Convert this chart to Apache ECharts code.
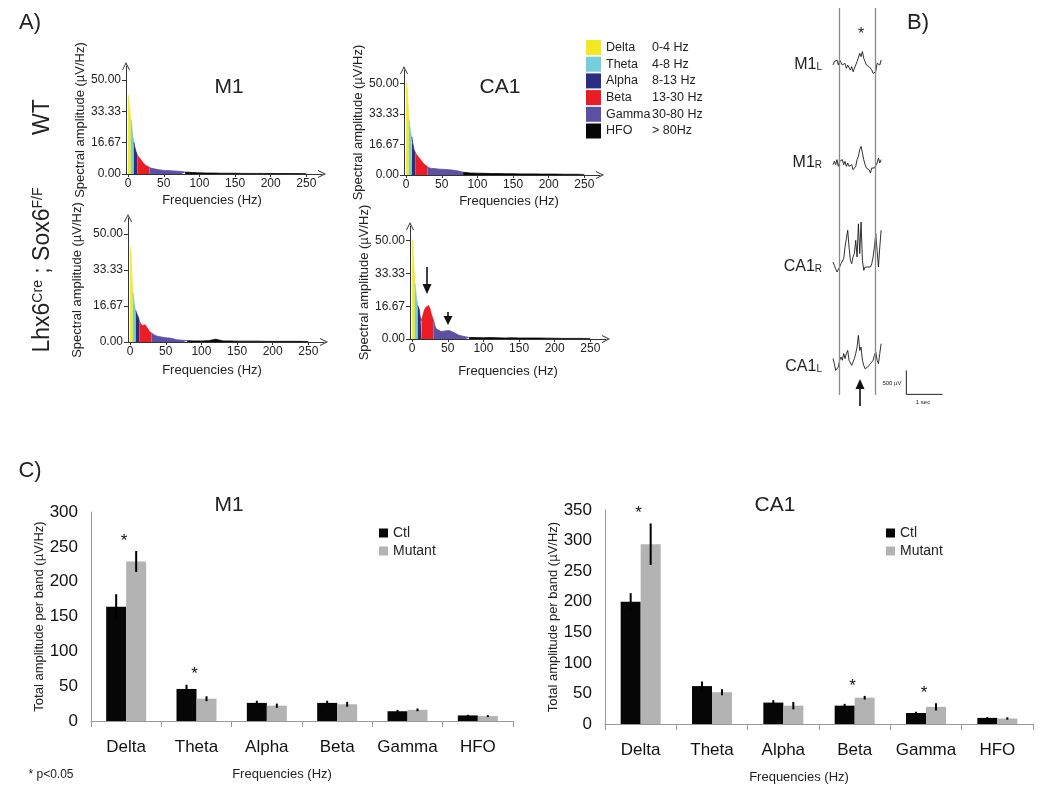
<!DOCTYPE html>
<html>
<head>
<meta charset="utf-8">
<script src="https://cdn.jsdelivr.net/npm/echarts@6/dist/echarts.min.js"></script>
<style>
  html, body { margin: 0; background: #fff; }
  #chart { width: 1050px; height: 787px; }
</style>
</head>
<body>
<div id="chart"></div>
<script>
const FONT = '"Liberation Sans", Arial, Helvetica, sans-serif';

// ---- A) spectra ----
const freqs = [0, 0.5, 1, 1.5, 2, 2.5, 3, 3.5, 4, 5, 6, 7, 8, 9, 10, 11, 12, 13,
  15, 17, 19, 21, 23, 25, 27, 30, 33, 36, 40, 44, 48, 52, 56, 60, 65, 70, 75, 80,
  90, 100, 110, 120, 130, 140, 150, 160, 170, 180, 190, 200, 210, 220, 230, 240, 250];
const wtM1 = [38, 42, 41, 38, 37, 34, 31, 30, 29, 26, 22, 19, 17, 15, 13.5, 12, 11, 10,
  9, 8, 7, 6, 5, 4.5, 4, 3.5, 3, 2.8, 2.5, 2.2, 2, 1.9, 1.8, 1.7, 1.6, 1.5, 1.3, 1,
  0.8, 0.6, 0.5, 0.5, 0.4, 0.4, 0.4, 0.3, 0.3, 0.3, 0.3, 0.3, 0.2, 0.3, 0.2, 0.2, 0.2];
const wtCA1 = [45, 51, 50, 47, 44, 40, 36, 33, 30, 27, 24, 22, 21, 18, 16, 14, 13, 12,
  11, 10, 9, 8, 7, 6, 5, 4.5, 3.8, 3.6, 3.5, 3.3, 3.2, 3.1, 3, 2.9, 2.7, 2.4, 2, 1.5,
  1.1, 1, 0.9, 0.8, 0.8, 0.7, 0.7, 0.6, 0.6, 0.6, 0.5, 0.5, 0.5, 0.4, 0.4, 0.4, 0.3];
const mutM1 = [40, 44, 42, 38, 35, 30, 26, 24, 23, 20, 17, 15.5, 14.5, 13.5, 13.4, 13, 11, 9.5,
  8.5, 7.5, 7.5, 8, 7.5, 6, 5, 4.2, 3.5, 2.9, 2.6, 2.3, 2.1, 1.9, 1.8, 1.5, 1.1, 0.9, 0.8, 0.6,
  0.5, 0.5, 0.6, 1.3, 0.5, 0.5, 0.4, 0.4, 0.4, 0.4, 0.3, 0.3, 0.3, 0.3, 0.3, 0.3, 0.2];
const mutCA1 = [45, 50.5, 48, 44, 40, 36, 33, 30, 28, 25, 21, 19, 17, 16, 15, 12, 9.5, 9.5,
  12, 14.5, 16, 17, 17, 15.5, 12.5, 9.5, 5.5, 4.7, 3.9, 4, 4.2, 4.3, 3.7, 3, 2, 1.5, 1.1, 0.8,
  0.7, 0.6, 0.7, 0.6, 0.5, 0.6, 0.5, 0.5, 0.5, 0.5, 0.4, 0.4, 0.3, 0.3, 0.3, 0.3, 0.3];
const bandNames = ['Delta', 'Theta', 'Alpha', 'Beta', 'Gamma', 'HFO'];
const bandRanges = ['0-4 Hz', '4-8 Hz', '8-13 Hz', '13-30 Hz', '30-80 Hz', '> 80Hz'];
const bandEdges = [0, 4, 8, 13, 30, 80, 250];
const bandColors = ['#f2e923', '#75cedb', '#2a2d82', '#ec1c24', '#5c50a4', '#060606'];
const specXTicks = [0, 50, 100, 150, 200, 250];
const specYTicks = [0, 16.67, 33.33, 50];

// ---- B) traces (µV) ----
const traceNames = [['M1', 'L'], ['M1', 'R'], ['CA1', 'R'], ['CA1', 'L']];
const m1L = [0, 70, 35, 105, 0, 105, 70, 0, -35, 35, -70, 0, -35, -105, -35, -140, -70, 0, 70, 105,
  245, 175, 280, 140, 70, 0, -35, -35, -70, -105, -175, -175, -140, 35, 70, 0, 105];
const m1R = [-35, 35, -35, 70, -70, 35, 0, 70, -35, 35, -70, 0, -70, -105, -35, -140, -175, -70, 70, 140,
  280, 345, 210, 70, -35, -105, -70, -140, -210, -105, -70, -105, -140, 0, 105, 0, 70];
const ca1R = [105, 35, -35, -105, -70, 0, 70, 70, 175, 415, 590, 765, 415, 140, 70, 210, 280, 555, 210, 900,
  280, 935, 140, -70, 0, -35, 0, 35, 0, 70, 210, 415, 695, 345, 0, 415, 765];
const ca1L = [175, 70, -70, -105, 0, 140, 210, 140, 280, 175, 280, 345, 140, 105, 35, 70, 175, 280, 415, 660,
  345, 415, 140, 35, -35, 0, 0, 35, 70, 105, 140, 245, 310, 140, 70, 280, 485];
const sampleStep = 0.037; // s
const windowMarks = [0.167, 1.167]; // s
const scaleSec = 1, scaleUv = 500;

// ---- C) band totals ----
const bandCats = ['Delta', 'Theta', 'Alpha', 'Beta', 'Gamma', 'HFO'];
const m1Ctl = [164, 46, 26, 26, 14, 8];
const m1CtlErr = [18, 6, 3, 3, 2, 1];
const m1Mut = [229, 32, 22, 24, 16, 7];
const m1MutErr = [15, 3.5, 3, 3.5, 2, 1.5];
const m1Sig = [1, 1, 0, 0, 0, 0];
const ca1Ctl = [200, 62, 35, 30, 18, 10];
const ca1CtlErr = [14, 7.5, 4, 3, 2, 1.2];
const ca1Mut = [294, 52, 30, 43, 28, 9];
const ca1MutErr = [34, 5, 6, 3, 6, 2];
const ca1Sig = [1, 0, 0, 1, 1, 0];

const chart = echarts.init(document.getElementById('chart'), null, { renderer: 'canvas' });

const axisCol = '#333';
const chevron = 'path://M0,10 L5,0 L10,10 L8.8,10 L5,2.6 L1.2,10 Z';
const grids = [], xAxes = [], yAxes = [], series = [], graphics = [];

// spectra layout
const specPanels = [
  { vals: wtM1, left: 126, top: 66, height: 108, xNameGap: 20, xPad: [0, 24, 0, 0], yNameGap: 39 },
  { vals: wtCA1, left: 404, top: 70, height: 105, xNameGap: 20, xPad: [0, 0, 0, 14], yNameGap: 37 },
  { vals: mutM1, left: 128, top: 218, height: 124, xNameGap: 22, xPad: [0, 28, 0, 0], yNameGap: 44 },
  { vals: mutCA1, left: 410, top: 226, height: 113, xNameGap: 26, xPad: [0, 0, 0, 0], yNameGap: 37 }
];
specPanels.forEach((p, gi) => {
  grids.push({ left: p.left, top: p.top, width: 196, height: p.height });
  xAxes.push({
    type: 'value', gridIndex: gi, min: -3, max: 272,
    axisLine: { show: true, onZero: false, lineStyle: { color: axisCol, width: 1 }, symbol: ['none', chevron], symbolSize: [8, 8] },
    axisTick: { show: true, customValues: specXTicks, length: 3, lineStyle: { color: axisCol } },
    axisLabel: { customValues: specXTicks, fontSize: 12, color: '#222', margin: 4, fontFamily: FONT },
    splitLine: { show: false },
    name: 'Frequencies (Hz)', nameLocation: 'middle', nameGap: p.xNameGap,
    nameTextStyle: { fontSize: 13, color: '#222', fontFamily: FONT, padding: p.xPad }
  });
  yAxes.push({
    type: 'value', gridIndex: gi, min: 0, max: 57.5,
    axisLine: { show: true, onZero: false, lineStyle: { color: axisCol, width: 1 }, symbol: ['none', chevron], symbolSize: [8, 8] },
    axisTick: { show: true, customValues: specYTicks, length: 4, lineStyle: { color: axisCol } },
    axisLabel: { customValues: specYTicks, fontSize: 12, color: '#222', margin: 5, fontFamily: FONT, formatter: v => v.toFixed(2) },
    splitLine: { show: false },
    name: 'Spectral amplitude (µV/Hz)', nameLocation: 'middle', nameGap: p.yNameGap, nameRotate: 90,
    nameTextStyle: { fontSize: 13, color: '#222', fontFamily: FONT }
  });
  bandNames.forEach((b, k) => {
    const pts = [];
    freqs.forEach((f, i) => {
      if (f >= bandEdges[k] && f <= bandEdges[k + 1]) pts.push([f, p.vals[i]]);
    });
    series.push({
      type: 'line', name: b, xAxisIndex: gi, yAxisIndex: gi, data: pts,
      symbol: 'none', silent: true, animation: false,
      lineStyle: { color: bandColors[k], width: 0.8 },
      areaStyle: { color: bandColors[k], opacity: 1 }
    });
  });
});

// traces layout
const traceTops = [17, 115, 219, 319];
const traces = [m1L, m1R, ca1R, ca1L];
const traceLeft = 833, traceWidth = 112, traceTMax = 3.1;
traces.forEach((tr, k) => {
  const gi = grids.length;
  const last = k === traces.length - 1;
  const yMin = last ? -700 : -500;
  grids.push({ left: traceLeft, top: traceTops[k], width: traceWidth, height: (1000 - yMin) * 0.048 });
  xAxes.push({ type: 'value', gridIndex: gi, min: 0, max: traceTMax, show: false });
  yAxes.push({ type: 'value', gridIndex: gi, min: yMin, max: 1000, show: false });
  series.push({
    type: 'line', xAxisIndex: gi, yAxisIndex: gi, silent: true, animation: false,
    data: tr.map((v, i) => [i * sampleStep, v]),
    symbol: 'none', lineStyle: { color: '#1a1a1a', width: 0.9 }
  });
  if (last) {
    const t0 = 2.03, y0 = -570;
    series.push({
      type: 'line', xAxisIndex: gi, yAxisIndex: gi, silent: true, animation: false,
      data: [[t0, y0 + scaleUv], [t0, y0], [t0 + scaleSec, y0]],
      symbol: 'none', lineStyle: { color: '#222', width: 1 }
    });
  }
  graphics.push({
    type: 'text', x: 822, y: traceTops[k] + 48, silent: true,
    style: {
      text: `{a|${traceNames[k][0]}}{s|${traceNames[k][1]}}`, align: 'right', verticalAlign: 'middle',
      rich: {
        a: { fontSize: 16, fontFamily: FONT, fill: '#222', verticalAlign: 'bottom' },
        s: { fontSize: 10, fontFamily: FONT, fill: '#222', verticalAlign: 'bottom', padding: [0, 0, 1, 0] }
      }
    }
  });
});
// overlay for the window lines
{
  const gi = grids.length;
  grids.push({ left: traceLeft, top: 8, width: traceWidth, height: 387 });
  xAxes.push({ type: 'value', gridIndex: gi, min: 0, max: traceTMax, show: false });
  yAxes.push({ type: 'value', gridIndex: gi, min: 0, max: 1, show: false });
  series.push({
    type: 'line', xAxisIndex: gi, yAxisIndex: gi, data: [], silent: true, animation: false,
    markLine: {
      silent: true, symbol: ['none', 'none'], label: { show: false }, animation: false,
      lineStyle: { color: '#8c8c8c', width: 1.3, type: 'solid' },
      data: windowMarks.map(t => ({ xAxis: t }))
    }
  });
}

// bar charts layout
const barPanels = [
  { ctl: m1Ctl, ctlErr: m1CtlErr, mut: m1Mut, mutErr: m1MutErr, sig: m1Sig, max: 300,
    left: 91, top: 512, width: 422, height: 209, yNameGap: 39 },
  { ctl: ca1Ctl, ctlErr: ca1CtlErr, mut: ca1Mut, mutErr: ca1MutErr, sig: ca1Sig, max: 350,
    left: 605, top: 510, width: 428, height: 214, yNameGap: 44 }
];
const errRender = (offset) => (params, api) => {
  const lo = api.coord([api.value(0), api.value(1)]);
  const hi = api.coord([api.value(0), api.value(2)]);
  return {
    type: 'line', silent: true,
    shape: { x1: lo[0] + offset, y1: lo[1], x2: hi[0] + offset, y2: hi[1] },
    style: { stroke: '#000', lineWidth: 2 }
  };
};
barPanels.forEach((p) => {
  const gi = grids.length;
  grids.push({ left: p.left, top: p.top, width: p.width, height: p.height });
  xAxes.push({
    type: 'category', gridIndex: gi, data: bandCats,
    axisLine: { show: true, lineStyle: { color: '#999', width: 1 } },
    axisTick: { show: true, length: 6, lineStyle: { color: '#999' } },
    axisLabel: { interval: 0, fontSize: 17, color: '#111', margin: 18, fontFamily: FONT },
    name: 'Frequencies (Hz)', nameLocation: 'middle', nameGap: 47,
    nameTextStyle: { fontSize: 13, color: '#222', fontFamily: FONT, padding: [0, 40, 0, 0] }
  });
  yAxes.push({
    type: 'value', gridIndex: gi, min: 0, max: p.max, interval: 50,
    axisLine: { show: true, lineStyle: { color: '#999', width: 1 } },
    axisTick: { show: false },
    axisLabel: { fontSize: 17, color: '#111', margin: 13, fontFamily: FONT },
    splitLine: { show: false },
    name: 'Total amplitude per band (µV/Hz)', nameLocation: 'middle', nameGap: p.yNameGap, nameRotate: 90,
    nameTextStyle: { fontSize: 13, color: '#222', fontFamily: FONT }
  });
  series.push(
    { type: 'bar', name: 'Ctl', xAxisIndex: gi, yAxisIndex: gi, data: p.ctl, barWidth: 20, barGap: '0%',
      itemStyle: { color: '#060606' }, silent: true, animation: false },
    { type: 'bar', name: 'Mutant', xAxisIndex: gi, yAxisIndex: gi, data: p.mut, barWidth: 20, barGap: '0%',
      itemStyle: { color: '#b3b3b3' }, silent: true, animation: false },
    { type: 'custom', xAxisIndex: gi, yAxisIndex: gi, z: 5, animation: false,
      data: p.ctl.map((v, i) => [i, v - p.ctlErr[i], v + p.ctlErr[i]]), renderItem: errRender(-10) },
    { type: 'custom', xAxisIndex: gi, yAxisIndex: gi, z: 5, animation: false,
      data: p.mut.map((v, i) => [i, v - p.mutErr[i], v + p.mutErr[i]]), renderItem: errRender(10) },
    { type: 'custom', xAxisIndex: gi, yAxisIndex: gi, z: 6, animation: false,
      data: p.sig.map((s, i) => [i, Math.max(p.ctl[i] + p.ctlErr[i], p.mut[i] + p.mutErr[i]), s]).filter(d => d[2]),
      renderItem: (params, api) => {
        const pt = api.coord([api.value(0), api.value(1)]);
        return { type: 'text', silent: true,
          style: { text: '*', x: pt[0] - 2, y: pt[1] - 10, align: 'center', verticalAlign: 'middle',
            fontSize: 17, fontFamily: FONT, fill: '#111' } };
      } }
  );
});

// band colour key
bandNames.forEach((b, k) => {
  const y = 40 + k * 16.7;
  graphics.push(
    { type: 'rect', silent: true, shape: { x: 586, y: y, width: 15, height: 15 }, style: { fill: bandColors[k] } },
    { type: 'text', silent: true, x: 606, y: y + 7.5, style: { text: b, fontSize: 12.5, fontFamily: FONT, fill: '#222', verticalAlign: 'middle' } },
    { type: 'text', silent: true, x: 652, y: y + 7.5, style: { text: bandRanges[k], fontSize: 12.5, fontFamily: FONT, fill: '#222', verticalAlign: 'middle' } }
  );
});

const txt = (text, x, y, size, extra) => ({
  type: 'text', silent: true, x: x, y: y,
  style: Object.assign({ text: text, fontSize: size, fontFamily: FONT, fill: '#222', align: 'center', verticalAlign: 'middle' }, extra || {})
});
graphics.push(
  txt('A)', 30, 23, 22),
  txt('B)', 918, 23, 22),
  txt('C)', 30, 471, 22),
  txt('M1', 229, 87, 21),
  txt('CA1', 500, 87, 21),
  txt('M1', 229, 505, 21),
  txt('CA1', 775, 505, 21),
  txt('* p<0.05', 51, 775, 12),
  txt('*', 861, 35, 16),
  txt('500 µV', 892, 383, 6),
  txt('1 sec', 923, 402, 6),
  { type: 'text', silent: true, x: 43, y: 117, rotation: Math.PI / 2,
    style: { text: 'WT', fontSize: 23, fontFamily: FONT, fill: '#222', align: 'center', verticalAlign: 'middle' } },
  { type: 'text', silent: true, x: 43, y: 270, rotation: Math.PI / 2,
    style: { text: '{a|Lhx6}{s|Cre}{a| ; Sox6}{s|F/F}', align: 'center', verticalAlign: 'middle',
      rich: {
        a: { fontSize: 23, fontFamily: FONT, fill: '#222', verticalAlign: 'top' },
        s: { fontSize: 14, fontFamily: FONT, fill: '#222', verticalAlign: 'top' }
      } } },
  // arrows
  { type: 'line', silent: true, shape: { x1: 427, y1: 267, x2: 427, y2: 290 }, style: { stroke: '#111', lineWidth: 1.6 } },
  { type: 'polygon', silent: true, shape: { points: [[422.5, 284], [431.5, 284], [427, 294]] }, style: { fill: '#111' } },
  { type: 'line', silent: true, shape: { x1: 448, y1: 312, x2: 448, y2: 320 }, style: { stroke: '#111', lineWidth: 1.6 } },
  { type: 'polygon', silent: true, shape: { points: [[443.5, 316], [452.5, 316], [448, 325]] }, style: { fill: '#111' } },
  { type: 'line', silent: true, shape: { x1: 860, y1: 385, x2: 860, y2: 406 }, style: { stroke: '#111', lineWidth: 1.6 } },
  { type: 'polygon', silent: true, shape: { points: [[855.5, 389], [864.5, 389], [860, 379]] }, style: { fill: '#111' } }
);

chart.setOption({
  backgroundColor: '#fff',
  animation: false,
  textStyle: { fontFamily: FONT },
  grid: grids,
  xAxis: xAxes,
  yAxis: yAxes,
  legend: [
    { data: ['Ctl', 'Mutant'], orient: 'vertical', left: 379, top: 526, padding: 0, icon: 'rect',
      itemWidth: 9, itemHeight: 9, itemGap: 4, selectedMode: false,
      textStyle: { fontSize: 14, color: '#222', fontFamily: FONT } },
    { data: ['Ctl', 'Mutant'], orient: 'vertical', left: 886, top: 526, padding: 0, icon: 'rect',
      itemWidth: 9, itemHeight: 9, itemGap: 4, selectedMode: false,
      textStyle: { fontSize: 14, color: '#222', fontFamily: FONT } }
  ],
  series: series,
  graphic: graphics
});

window.addEventListener('resize', () => chart.resize());
</script>
</body>
</html>
